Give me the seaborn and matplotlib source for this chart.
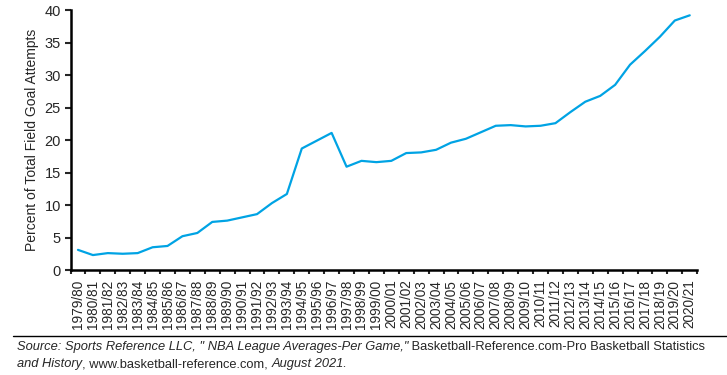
import numpy as np
import pandas as pd
import seaborn as sns
import matplotlib.pyplot as plt
from matplotlib.ticker import FixedLocator

seasons = ["1979/80", "1980/81", "1981/82", "1982/83", "1983/84", "1984/85", "1985/86",
           "1986/87", "1987/88", "1988/89", "1989/90", "1990/91", "1991/92", "1992/93",
           "1993/94", "1994/95", "1995/96", "1996/97", "1997/98", "1998/99", "1999/00",
           "2000/01", "2001/02", "2002/03", "2003/04", "2004/05", "2005/06", "2006/07",
           "2007/08", "2008/09", "2009/10", "2010/11", "2011/12", "2012/13", "2013/14",
           "2014/15", "2015/16", "2016/17", "2017/18", "2018/19", "2019/20", "2020/21"]
three_pt_share = [3.1, 2.3, 2.6, 2.5, 2.6, 3.5, 3.7, 5.2, 5.7, 7.4, 7.6, 8.1, 8.6, 10.3,
                  11.7, 18.7, 19.9, 21.1, 15.9, 16.8, 16.6, 16.8, 18.0, 18.1, 18.5, 19.6,
                  20.2, 21.2, 22.2, 22.3, 22.1, 22.2, 22.6, 24.3, 25.9, 26.8, 28.5, 31.6,
                  33.7, 35.9, 38.4, 39.2]
y_ticks = [0, 5, 10, 15, 20, 25, 30, 35, 40]

# source note, (text, italic) pieces per line
source_lines = [
    [("Source: Sports Reference LLC, \" NBA League Averages-Per Game,\"", True),
     (" Basketball-Reference.com-Pro Basketball Statistics", False)],
    [("and History", True),
     (", www.basketball-reference.com, ", False),
     ("August 2021.", True)],
]

sns.set_style("white")
plt.rcParams['font.family'] = ['Liberation Sans', 'DejaVu Sans']

df = pd.DataFrame({"season": seasons, "pct": three_pt_share})
df["pos"] = np.arange(len(df))

fig = plt.figure(figsize=(7.27, 3.75), dpi=100)
ax = fig.add_axes([0.097, 0.28, 0.862, 0.693])

sns.lineplot(data=df, x="pos", y="pct", color="#00a3e4", linewidth=1.6, ax=ax)

ax.set_xlim(-0.5, len(seasons) - 0.5)
ax.set_ylim(0, 40)
ax.set_yticks(y_ticks)
ax.set_yticklabels([str(t) for t in y_ticks], fontsize=10.5)
ax.set_xticks(df["pos"])
ax.set_xticklabels(seasons, rotation=90, fontsize=9.8)
ax.xaxis.set_minor_locator(FixedLocator(np.arange(-0.5, len(seasons), 1)))
ax.tick_params(axis="x", which="major", length=0, pad=7)
ax.tick_params(axis="x", which="minor", length=3, width=1.5, direction="out", bottom=True)
ax.tick_params(axis="y", length=4, width=1.5, direction="out", left=True, pad=3)
ax.set_xlabel("")
ax.set_ylabel("Percent of Total Field Goal Attempts", fontsize=10)

sns.despine(ax=ax)
for s in ["left", "bottom"]:
    ax.spines[s].set_linewidth(1.8)
    ax.spines[s].set_color("black")

# source note under a rule
fig.add_artist(plt.Line2D([0.018, 1.0], [0.104, 0.104], color="black", linewidth=1))
fs = 9.3
renderer = fig.canvas.get_renderer()
for line, y in zip(source_lines, [0.067, 0.021]):
    x = 0.023
    for txt, ital in line:
        t = fig.text(x, y, txt, fontsize=fs, style="italic" if ital else "normal",
                     va="baseline", ha="left")
        bb = t.get_window_extent(renderer)
        x = fig.transFigure.inverted().transform((bb.x1, bb.y0))[0]

fig.savefig("out.png", dpi=100)
